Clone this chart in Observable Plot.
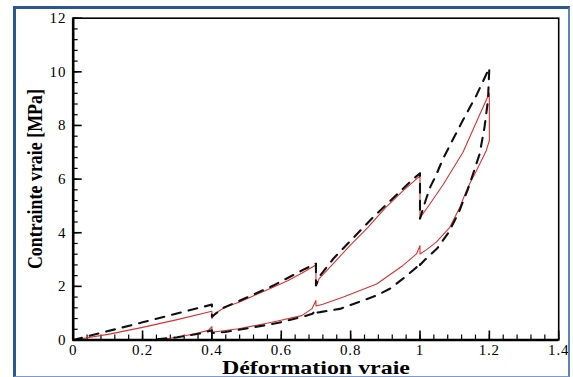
<!DOCTYPE html>
<html><head><meta charset="utf-8">
<script src="https://cdn.jsdelivr.net/npm/d3@7"></script>
<script src="https://cdn.jsdelivr.net/npm/@observablehq/plot@0.6"></script>
<style>
html,body{margin:0;padding:0;background:#fff;}
#wrap{position:relative;width:573px;height:377px;overflow:hidden;background:#fff;}
#wrap svg{position:absolute;left:0;top:0;}
#border{position:absolute;left:13px;top:6px;width:557px;height:371px;box-sizing:border-box;border-left:3.5px solid #2a5893;border-top:3.5px solid #2a5893;border-right:2px solid #5f82b8;border-bottom:1.5px solid #7d9acb;pointer-events:none;}
</style></head><body><div id="wrap"><div id="border"></div></div>
<script>
// Red solid curve (loading with relaxations, then unloading)
const redX = [0, 0.1, 0.2, 0.3, 0.4,
  0.4, 0.41, 0.438, 0.48, 0.525, 0.57, 0.62, 0.66, 0.7,
  0.7, 0.71, 0.75, 0.8, 0.85, 0.9, 0.95, 1.0,
  1.0, 1.03, 1.067, 1.124, 1.172, 1.2,
  1.2, 1.191, 1.163, 1.138, 1.115, 1.086, 1.047, 1.02, 1.0,
  1.0, 0.99, 0.951, 0.875, 0.779, 0.72, 0.7,
  0.7, 0.688, 0.659, 0.573, 0.477, 0.4,
  0.4, 0.39, 0.351, 0.3, 0.245];
const redY = [0, 0.21, 0.47, 0.76, 1.07,
  0.8, 1.0, 1.22, 1.42, 1.68, 1.93, 2.22, 2.5, 2.8,
  2.03, 2.3, 2.85, 3.55, 4.2, 4.93, 5.55, 6.12,
  4.55, 5.1, 5.8, 7.0, 8.4, 9.2,
  7.44, 7.06, 6.32, 5.7, 4.95, 4.2, 3.65, 3.38, 3.21,
  3.52, 3.21, 2.78, 2.09, 1.6, 1.33, 1.27,
  1.47, 1.16, 0.91, 0.66, 0.42, 0.29,
  0.5, 0.36, 0.23, 0.1, 0];
// Black dashed curve
const dashX = [0, 0.2, 0.4,
  0.4, 0.433, 0.481, 0.577, 0.668, 0.7,
  0.7, 0.712, 0.75, 0.865, 0.975, 1.0,
  1.0, 1.01, 1.02, 1.03, 1.045, 1.066, 1.124, 1.163, 1.2,
  1.196, 1.186, 1.172, 1.153, 1.138, 1.112, 1.083, 1.05, 1.015, 1.0,
  1.0, 0.99, 0.956, 0.913, 0.875, 0.822, 0.769, 0.712, 0.7,
  0.7, 0.69, 0.664, 0.592, 0.5, 0.438, 0.4,
  0.4, 0.37, 0.3, 0.22];
const dashY = [0, 0.66, 1.32,
  0.87, 1.2, 1.47, 2.03, 2.65, 2.85,
  2.03, 2.4, 3.03, 4.58, 5.94, 6.22,
  4.52, 4.95, 5.35, 5.72, 6.1, 6.75, 8.2, 9.13, 10.15,
  8.93, 7.93, 6.94, 6.19, 5.62, 4.76, 4.02, 3.42, 3.0, 2.8,
  2.9, 2.71, 2.34, 1.91, 1.66, 1.41, 1.16, 1.04, 1.02,
  1.12, 0.98, 0.88, 0.64, 0.43, 0.3, 0.26,
  0.36, 0.25, 0.1, 0];

const xTicks = [0, 0.2, 0.4, 0.6, 0.8, 1.0, 1.2, 1.4];
const xTickLabels = ["0", "0.2", "0.4", "0.6", "0.8", "1", "1.2", "1.4"];
const yTicks = [0, 2, 4, 6, 8, 10, 12];
const yTickLabels = ["0", "2", "4", "6", "8", "10", "12"];
const xMinor = d3.range(0, 36).map(i => i * 0.04);
const yMinor = d3.range(0, 31).map(i => i * 0.4);
const xTitle = "Déformation vraie";
const yTitle = "Contrainte vraie [MPa]";

const red = redX.map((x, i) => ({x, y: redY[i]}));
const dash = dashX.map((x, i) => ({x, y: dashY[i]}));

const serif = "Liberation Serif";

const chart = Plot.plot({
  width: 573, height: 377,
  marginLeft: 72.7, marginRight: 14.8, marginTop: 17.7, marginBottom: 37.5,
  x: {domain: [0, 1.4], label: null},
  y: {domain: [0, 12], label: null},
  style: {fontFamily: serif, fontSize: "15px", color: "#000", background: "transparent"},
  marks: [
    Plot.axisX({ticks: xMinor, tickSize: -5, fill: "none", strokeWidth: 1.2, label: null}),
    Plot.axisX({ticks: xTicks, tickSize: -9, tickPadding: 13, tickFormat: d => xTickLabels[xTicks.indexOf(d)], strokeWidth: 1.6, label: null, fontFamily: serif, fontSize: 15}),
    Plot.axisY({ticks: yMinor, tickSize: -5, fill: "none", strokeWidth: 1.2, label: null}),
    Plot.axisY({ticks: yTicks, tickSize: -9, tickPadding: 16, tickFormat: d => yTickLabels[yTicks.indexOf(d)], strokeWidth: 1.6, label: null, fontFamily: serif, fontSize: 15}),
    Plot.line(red, {x: "x", y: "y", stroke: "#e03030", strokeWidth: 1.1}),
    Plot.line(dash, {x: "x", y: "y", stroke: "#111", strokeWidth: 2.1, strokeDasharray: "9,8"}),
    Plot.frame({stroke: "#000", strokeWidth: 1.6}),
    Plot.ruleX([0], {strokeWidth: 2.6}),
    Plot.ruleY([0], {strokeWidth: 2.6}),
    Plot.text([xTitle], {frameAnchor: "bottom", textAnchor: "middle", lineAnchor: "bottom", dy: 33.5, fontWeight: "bold", fontSize: 19, fontFamily: serif}),
    Plot.text([yTitle], {frameAnchor: "left", textAnchor: "middle", rotate: -90, lineAnchor: "bottom", dx: -30.7, fontWeight: "bold", fontSize: 18, fontFamily: serif})
  ]
});
document.getElementById("wrap").insertBefore(chart, document.getElementById("border"));
const sel = d3.select(chart);
sel.selectAll("text").each(function() {
  const t = this.textContent;
  if (t === xTitle) {
    d3.select(this).attr("textLength", 188).attr("lengthAdjust", "spacingAndGlyphs");
  } else if (t === yTitle) {
    const tr = this.getAttribute("transform") || "";
    d3.select(this).attr("textLength", 180).attr("lengthAdjust", "spacingAndGlyphs")
      .attr("transform", tr + " scale(1,1.15)");
  } else if (xTickLabels.includes(t) || yTickLabels.includes(t)) {
    d3.select(this).style("letter-spacing", "0.8px");
  }
});
</script>
</body></html>
